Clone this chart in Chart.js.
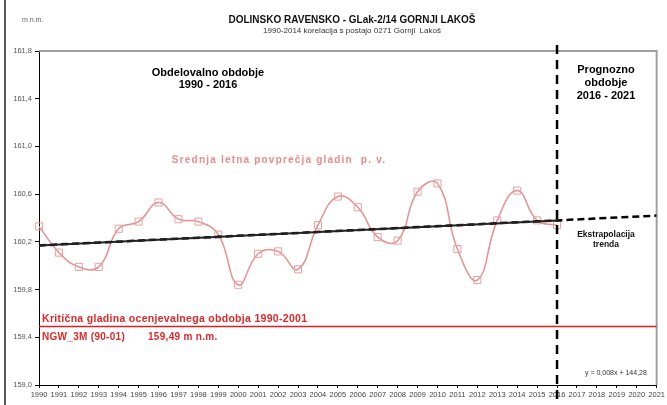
<!DOCTYPE html>
<html>
<head>
<meta charset="utf-8">
<script src="https://cdn.jsdelivr.net/npm/chart.js@4/dist/chart.umd.min.js"></script>
<style>
html,body{margin:0;padding:0;background:#fff;}
#wrap{width:667px;height:405px;position:relative;}
</style>
</head>
<body>
<div id="wrap"><canvas id="c" width="667" height="405"></canvas></div>
<script>
// ---- data ----
const years = [1990,1991,1992,1993,1994,1995,1996,1997,1998,1999,2000,2001,2002,2003,2004,2005,2006,2007,2008,2009,2010,2011,2012,2013,2014,2015,2016];
const levels = [160.33,160.11,159.99,159.99,160.31,160.37,160.53,160.39,160.37,160.26,159.84,160.10,160.12,159.97,160.34,160.58,160.49,160.24,160.21,160.62,160.69,160.14,159.88,160.38,160.63,160.38,160.34];
const trendYears = [1990, 2016, 2021];
const trendValues = [160.17, 160.38, 160.42];
const criticalLevel = 159.49;
const xRange = [1990, 2021];
const yRange = [159.0, 161.8];
const forecastStart = 2016;

const FONT = "'Liberation Sans', Arial, sans-serif";

const points = years.map((y,i)=>({x:y,y:levels[i]}));
const trendSolid = [{x:trendYears[0],y:trendValues[0]},{x:trendYears[1],y:trendValues[1]}];
const trendDash = trendYears.map((y,i)=>({x:y,y:trendValues[i]}));
const critLine = [{x:xRange[0],y:criticalLevel},{x:xRange[1],y:criticalLevel}];

const textPlugin = {
  id:'texts',
  beforeDatasetsDraw(chart){
    const ctx = chart.ctx, a = chart.chartArea;
    ctx.save();
    ctx.strokeStyle = '#a0a0a0'; ctx.lineWidth = 2;
    ctx.beginPath(); ctx.moveTo(a.left, a.top); ctx.lineTo(a.right, a.top); ctx.lineTo(a.right, a.bottom); ctx.stroke();
    ctx.restore();
  },
  afterDraw(chart){
    const ctx = chart.ctx, a = chart.chartArea;
    const xs = chart.scales.x;
    ctx.save();
    ctx.strokeStyle = '#222'; ctx.lineWidth = 1.5;
    ctx.beginPath(); ctx.moveTo(5, 0); ctx.lineTo(5, 405); ctx.stroke();
    const vx = xs.getPixelForValue(forecastStart);
    ctx.strokeStyle = '#000'; ctx.lineWidth = 2.5; ctx.setLineDash([9,6]);
    ctx.beginPath(); ctx.moveTo(vx, a.top - 6); ctx.lineTo(vx, a.bottom + 14); ctx.stroke();
    ctx.setLineDash([]);

    ctx.textBaseline = 'middle';
    ctx.fillStyle = '#666'; ctx.font = "7px " + FONT; ctx.textAlign = 'left';
    ctx.fillText('m n.m.', 22, 20);
    ctx.fillStyle = '#111'; ctx.textAlign = 'center';
    ctx.font = "bold 10px " + FONT;
    ctx.fillText('DOLINSKO RAVENSKO - GLak-2/14 GORNJI LAKOŠ', 352, 20);
    ctx.font = "8px " + FONT; ctx.fillStyle = '#333';
    ctx.fillText('1990-2014 korelacija s postajo 0271 Gornji  Lakoš', 352, 31);
    ctx.fillStyle = '#000'; ctx.font = "bold 11px " + FONT;
    ctx.fillText('Obdelovalno obdobje', 208, 73);
    ctx.fillText('1990 - 2016', 208, 85);
    ctx.fillText('Prognozno', 606, 70);
    ctx.fillText('obdobje', 606, 83);
    ctx.fillText('2016 - 2021', 606, 96);
    ctx.fillStyle = '#e98b8b'; ctx.font = "bold 10px " + FONT;
    ctx.letterSpacing = '1.2px';
    ctx.fillText('Srednja letna povprečja gladin  p. v.', 279, 160);
    ctx.letterSpacing = '0px';
    ctx.fillStyle = '#111'; ctx.font = "bold 8.5px " + FONT;
    ctx.fillText('Ekstrapolacija', 606, 235);
    ctx.fillText('trenda', 606, 245);
    ctx.fillStyle = '#e02828'; ctx.textAlign = 'left'; ctx.font = "bold 10.5px " + FONT;
    ctx.letterSpacing = '0.3px';
    ctx.fillText('Kritična gladina ocenjevalnega obdobja 1990-2001', 42, 319);
    ctx.font = "bold 10px " + FONT;
    ctx.fillText('NGW_3M (90-01)', 42, 337);
    ctx.fillText('159,49 m n.m.', 148, 337);
    ctx.letterSpacing = '0px';
    ctx.fillStyle = '#333'; ctx.font = "7px " + FONT;
    ctx.fillText('y = 0,008x + 144,28', 585, 373);
    ctx.restore();
  }
};

new Chart(document.getElementById('c'), {
  type:'line',
  data:{
    datasets:[
      {data:critLine, borderColor:'#e02020', borderWidth:1.5, pointRadius:0, tension:0},
      {data:trendSolid, borderColor:'#222', borderWidth:2, pointRadius:0, tension:0},
      {data:trendDash, borderColor:'#000', borderWidth:2.5, borderDash:[7,4], pointRadius:0, tension:0},
      {data:points, borderColor:'#e88e8e', borderWidth:1.5, tension:0.45, clip:false,
       pointStyle:'rect', pointRadius:5, pointBorderWidth:1, pointBorderColor:'#e8a0a0', pointBackgroundColor:'rgba(255,255,255,0)'}
    ]
  },
  options:{
    responsive:false, animation:false,
    layout:{padding:{left:0,right:10,top:51,bottom:0}},
    plugins:{legend:{display:false}, tooltip:{enabled:false}},
    scales:{
      x:{type:'linear', min:xRange[0], max:xRange[1],
         afterFit(s){s.height=20;},
         border:{display:true,color:'#000',width:1},
         grid:{drawOnChartArea:false, drawTicks:true, tickLength:3, color:'#000'},
         ticks:{stepSize:1, maxRotation:0, autoSkip:false, padding:2, color:'#444', font:{family:FONT,size:7.5},
                callback:v=>String(v)}},
      y:{min:yRange[0], max:yRange[1],
         afterFit(s){s.width=39;},
         border:{display:true,color:'#000',width:1},
         grid:{drawOnChartArea:false, drawTicks:true, tickLength:4, color:'#000'},
         ticks:{stepSize:0.4, padding:3, color:'#555', font:{family:FONT,size:7.5},
                callback:v=>v.toFixed(1).replace('.',',')}}
    }
  },
  plugins:[textPlugin]
});
</script>
</body>
</html>
